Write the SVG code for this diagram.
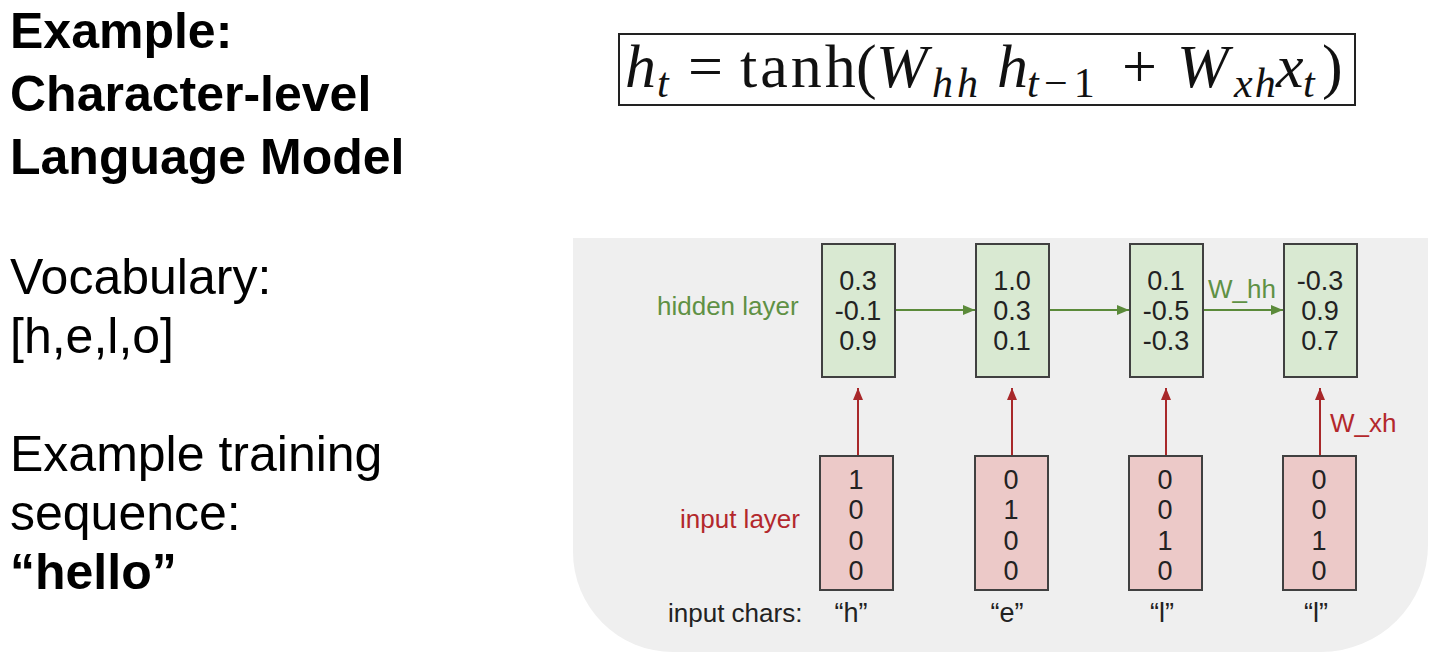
<svg xmlns="http://www.w3.org/2000/svg" width="1440" height="668" viewBox="0 0 1440 668">
<style>
.t{font-family:"Liberation Sans",Arial,sans-serif;fill:#000}
.b{font-weight:bold;font-size:50px}
.r{font-size:50px}
.n{font-family:"Liberation Sans",Arial,sans-serif;font-size:27px;fill:#222;text-anchor:middle}
.lb{font-family:"Liberation Sans",Arial,sans-serif;font-size:26px}
.hb{fill:#d9e9d2;stroke:#404040;stroke-width:2}
.ib{fill:#ecc9c8;stroke:#404040;stroke-width:2}
.ga{stroke:#5b8a3a;stroke-width:2;fill:none}
.ra{stroke:#a8282a;stroke-width:2;fill:none}
.f{font-family:"Liberation Serif","Times New Roman",serif;fill:#111}
.i{font-style:italic}
</style>
<defs>
<marker id="mg" viewBox="0 0 12 10" refX="12" refY="5" markerWidth="12" markerHeight="10" markerUnits="userSpaceOnUse" orient="auto"><path d="M0,0L12,5L0,10Z" fill="#5b8a3a"/></marker>
<marker id="mr" viewBox="0 0 12 10" refX="12" refY="5" markerWidth="12" markerHeight="10" markerUnits="userSpaceOnUse" orient="auto"><path d="M0,0L12,5L0,10Z" fill="#a8282a"/></marker>
</defs>
<rect width="1440" height="668" fill="#fff"/>
<g id="left-text">
<text class="t b" x="10" y="48">Example:</text>
<text class="t b" x="10" y="111">Character-level</text>
<text class="t b" x="10" y="174">Language Model</text>
<text class="t r" x="10" y="294">Vocabulary:</text>
<text class="t r" x="10" y="353">[h,e,l,o]</text>
<text class="t r" x="10" y="471">Example training</text>
<text class="t r" x="10" y="530">sequence:</text>
<text class="t b" x="10" y="589">“hello”</text>
</g>
<g id="formula">
<rect x="619" y="34" width="736" height="71" fill="#fff" stroke="#222" stroke-width="2"/>
<text class="f" y="87" font-size="62">
<tspan class="i" x="625">h</tspan><tspan class="i" x="657" y="97" font-size="42">t</tspan>
<tspan x="688" y="87">=</tspan>
<tspan x="740" letter-spacing="3">tanh</tspan>
<tspan x="856">(</tspan>
<tspan class="i" x="876">W</tspan><tspan class="i" x="932" y="97" font-size="42" letter-spacing="4">hh</tspan>
<tspan class="i" x="997" y="87">h</tspan><tspan class="i" x="1027" y="97" font-size="42">t</tspan><tspan x="1044" y="97" font-size="42" letter-spacing="6">−1</tspan>
<tspan x="1122" y="87">+</tspan>
<tspan class="i" x="1177">W</tspan><tspan class="i" x="1234" y="97" font-size="42" letter-spacing="2">xh</tspan>
<tspan class="i" x="1276" y="87">x</tspan><tspan class="i" x="1303" y="97" font-size="42">t</tspan>
<tspan x="1322" y="87">)</tspan>
</text>
</g>
<g id="panel">
<path d="M573,238H1428V545A107,107 0 0 1 1321,652H673A100,100 0 0 1 573,552Z" fill="#efefef"/>
</g>
<g id="labels">
<text class="lb" x="657" y="315" fill="#5f9145">hidden layer</text>
<text class="lb" x="680" y="528" fill="#b3282c">input layer</text>
<text class="lb" x="668" y="622" fill="#222">input chars:</text>
</g>
<g id="connectors">
<line class="ga" x1="895" y1="310" x2="975" y2="310" marker-end="url(#mg)"/>
<line class="ga" x1="1049" y1="310" x2="1129" y2="310" marker-end="url(#mg)"/>
<line class="ga" x1="1203" y1="310" x2="1283" y2="310" marker-end="url(#mg)"/>
<line class="ra" x1="858" y1="456" x2="858" y2="388" marker-end="url(#mr)"/>
<line class="ra" x1="1012" y1="456" x2="1012" y2="388" marker-end="url(#mr)"/>
<line class="ra" x1="1166" y1="456" x2="1166" y2="388" marker-end="url(#mr)"/>
<line class="ra" x1="1320" y1="456" x2="1320" y2="388" marker-end="url(#mr)"/>
<text class="lb" x="1208" y="298" fill="#5f9145">W_hh</text>
<text class="lb" x="1330" y="432" fill="#b3282c">W_xh</text>
</g>
<g id="h1"><rect class="hb" x="822" y="244" width="73" height="133"/><text class="n"><tspan x="858" y="290">0.3</tspan><tspan x="858" y="320">-0.1</tspan><tspan x="858" y="350">0.9</tspan></text></g>
<g id="h2"><rect class="hb" x="976" y="244" width="73" height="133"/><text class="n"><tspan x="1012" y="290">1.0</tspan><tspan x="1012" y="320">0.3</tspan><tspan x="1012" y="350">0.1</tspan></text></g>
<g id="h3"><rect class="hb" x="1130" y="244" width="73" height="133"/><text class="n"><tspan x="1166" y="290">0.1</tspan><tspan x="1166" y="320">-0.5</tspan><tspan x="1166" y="350">-0.3</tspan></text></g>
<g id="h4"><rect class="hb" x="1284" y="244" width="73" height="133"/><text class="n"><tspan x="1320" y="290">-0.3</tspan><tspan x="1320" y="320">0.9</tspan><tspan x="1320" y="350">0.7</tspan></text></g>
<g id="i1"><rect class="ib" x="820" y="456" width="73" height="134"/><text class="n"><tspan x="856" y="489">1</tspan><tspan x="856" y="519">0</tspan><tspan x="856" y="550">0</tspan><tspan x="856" y="580">0</tspan></text></g>
<g id="i2"><rect class="ib" x="975" y="456" width="73" height="134"/><text class="n"><tspan x="1011" y="489">0</tspan><tspan x="1011" y="519">1</tspan><tspan x="1011" y="550">0</tspan><tspan x="1011" y="580">0</tspan></text></g>
<g id="i3"><rect class="ib" x="1129" y="456" width="73" height="134"/><text class="n"><tspan x="1165" y="489">0</tspan><tspan x="1165" y="519">0</tspan><tspan x="1165" y="550">1</tspan><tspan x="1165" y="580">0</tspan></text></g>
<g id="i4"><rect class="ib" x="1283" y="456" width="73" height="134"/><text class="n"><tspan x="1319" y="489">0</tspan><tspan x="1319" y="519">0</tspan><tspan x="1319" y="550">1</tspan><tspan x="1319" y="580">0</tspan></text></g>
<g id="chars">
<text class="n" x="851" y="622">“h”</text>
<text class="n" x="1007" y="622">“e”</text>
<text class="n" x="1162" y="622">“l”</text>
<text class="n" x="1316" y="622">“l”</text>
</g>
</svg>
